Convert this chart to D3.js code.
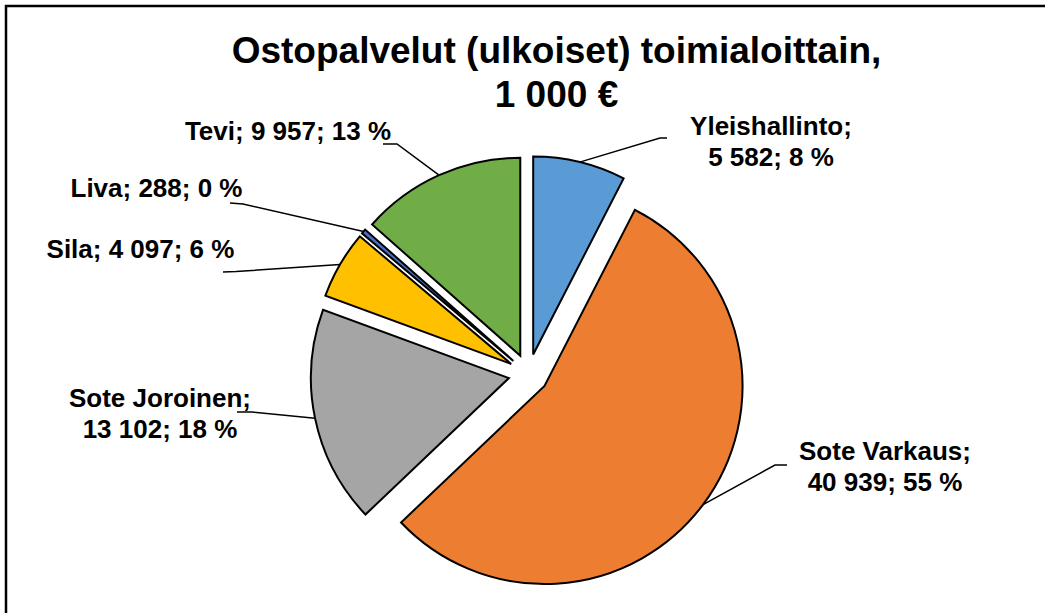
<!DOCTYPE html>
<html>
<head>
<meta charset="utf-8">
<script src="https://cdn.jsdelivr.net/npm/d3@7"></script>
<style>
  html, body { margin: 0; padding: 0; background: #fff; }
  svg { display: block; }
  text { font-family: Arial, "Liberation Sans", sans-serif; font-weight: bold; fill: #000; }
</style>
</head>
<body>
<svg id="chart" width="1045" height="613"></svg>
<script>
// ---- data ----
const categories = ["Yleishallinto", "Sote Varkaus", "Sote Joroinen", "Sila", "Liva", "Tevi"];
const values = [5582, 40939, 13102, 4097, 288, 9957];
const colors = ["#5B9BD5", "#ED7D31", "#A5A5A5", "#FFC000", "#4472C4", "#70AD47"];
const titleLines = ["Ostopalvelut (ulkoiset) toimialoittain,", "1 000 €"];

// ---- layout ----
const W = 1045, H = 613;
const cx = 528.5, cy = 374, R = 198, explode = 20;
// label layout: text centre x, first baseline y, whether split into two lines, leader elbow & end
const labelLayout = [
  { x: 771, y: 135, split: true,  elbow: [660, 138], end: [667, 138] },
  { x: 885, y: 460, split: true,  elbow: [775, 465], end: [787, 465] },
  { x: 160, y: 407, split: true,  elbow: [252, 412], end: [237, 412] },
  { x: 140.5, y: 258, split: false, elbow: [236, 271.5], end: [223, 272] },
  { x: 156.5, y: 197, split: false, elbow: [243, 204], end: [230, 203] },
  { x: 288, y: 140, split: false, elbow: [397, 144], end: [383, 144] }
];

const svg = d3.select("#chart");
svg.append("rect").attr("x", 0).attr("y", 0).attr("width", W).attr("height", H).attr("fill", "#fff");
// chart border (only top/left visible in the crop)
svg.append("rect").attr("x", 6).attr("y", 6).attr("width", 1200).attr("height", 800)
  .attr("fill", "none").attr("stroke", "#000").attr("stroke-width", 2.5);

// title
svg.append("g").selectAll("text").data(titleLines).join("text")
  .attr("x", 556.5).attr("y", (d, i) => 63 + i * 43.5)
  .attr("text-anchor", "middle").style("font-size", "37px").text(d => d);

const total = d3.sum(values);
const fmt = v => d3.format(",")(v).replace(/,/g, " ");
const data = categories.map((c, i) => ({ name: c, value: values[i], color: colors[i], layout: labelLayout[i] }));

const pie = d3.pie().value(d => d.value).sort(null).startAngle(0).endAngle(2 * Math.PI);
const arcs = pie(data);
const arc = d3.arc().innerRadius(0).outerRadius(R);

const dirOf = a => { const m = (a.startAngle + a.endAngle) / 2; return [Math.sin(m), -Math.cos(m)]; };

const g = svg.append("g").attr("transform", `translate(${cx},${cy})`);
g.selectAll("path.slice").data(arcs).join("path")
  .attr("class", "slice")
  .attr("transform", d => { const [dx, dy] = dirOf(d); return `translate(${dx * explode},${dy * explode})`; })
  .attr("d", arc)
  .attr("fill", d => d.data.color)
  .attr("stroke", "#000").attr("stroke-width", 2).attr("stroke-linejoin", "miter");

// leader lines
svg.append("g").selectAll("polyline").data(arcs).join("polyline")
  .attr("points", d => {
    const [dx, dy] = dirOf(d);
    const p = [cx + dx * (explode + R), cy + dy * (explode + R)];
    const L = d.data.layout;
    return [p, L.elbow, L.end].map(q => q.join(",")).join(" ");
  })
  .attr("fill", "none").attr("stroke", "#000").attr("stroke-width", 1.5);

// labels
const lg = svg.append("g");
arcs.forEach(d => {
  const L = d.data.layout;
  const pct = Math.round(d.data.value / total * 100) + " %";
  const lines = L.split
    ? [d.data.name + ";", fmt(d.data.value) + "; " + pct]
    : [d.data.name + "; " + fmt(d.data.value) + "; " + pct];
  lines.forEach((t, i) => {
    lg.append("text").attr("x", L.x).attr("y", L.y + i * 31)
      .attr("text-anchor", "middle").style("font-size", "26px").text(t);
  });
});
</script>
</body>
</html>
